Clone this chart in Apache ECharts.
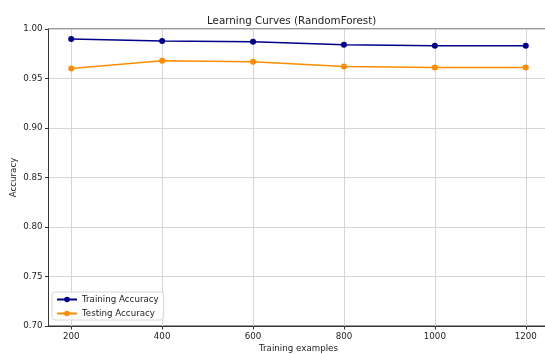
<!DOCTYPE html>
<html>
<head>
<meta charset="utf-8">
<script src="https://cdn.jsdelivr.net/npm/echarts@6/dist/echarts.min.js"></script>
<style>html,body{margin:0;padding:0;background:#fff}#c{width:545px;height:354px}</style>
</head>
<body>
<div id="c"></div>
<script>
const trainSizes = [200, 400, 600, 800, 1000, 1200];
const trainingAccuracy = [0.990, 0.988, 0.987, 0.984, 0.983, 0.983];
const testingAccuracy = [0.960, 0.968, 0.967, 0.962, 0.961, 0.961];
const xTicks = [200, 400, 600, 800, 1000, 1200];

const font = 'DejaVu Sans';
const fs = 8.7;
const chart = echarts.init(document.getElementById('c'), null, {renderer: 'canvas'});
chart.setOption({
  animation: false,
  backgroundColor: '#fff',
  title: {text: 'Learning Curves (RandomForest)', left: 202, top: 11,
    textStyle: {fontFamily: font, fontSize: 10.3, fontWeight: 'normal', color: '#222'}},
  grid: {left: 48.5, top: 29, width: 500, height: 297, show: true, borderColor: '#333', borderWidth: 1,
    containLabel: false, outerBoundsMode: 'none'},
  legend: {orient: 'vertical', left: 52, top: 292, itemWidth: 20, itemHeight: 7, itemGap: 5,
    padding: [3, 5, 2, 4], borderColor: '#d8d8d8', borderWidth: 1, borderRadius: 3, backgroundColor: 'rgba(255,255,255,0.8)',
    textStyle: {fontFamily: font, fontSize: fs, color: '#222'},
    data: ['Training Accuracy', 'Testing Accuracy']},
  xAxis: {type: 'value', min: 150, max: 1250,
    name: 'Training examples', nameLocation: 'middle', nameGap: 18, nameMoveOverlap: false,
    nameTextStyle: {fontFamily: font, fontSize: fs, color: '#222'},
    axisLine: {show: true, lineStyle: {color: '#333'}},
    axisTick: {show: true, length: 3.5, lineStyle: {color: '#333'}, customValues: xTicks},
    axisLabel: {fontFamily: font, fontSize: fs, color: '#222', margin: 6, customValues: xTicks, formatter: v => String(v)},
    splitLine: {show: true, lineStyle: {color: '#d6d6d6', width: 1}}},
  yAxis: {type: 'value', min: 0.70, max: 1.00, interval: 0.05,
    name: 'Accuracy', nameLocation: 'middle', nameGap: 30, nameMoveOverlap: false,
    nameTextStyle: {fontFamily: font, fontSize: fs, color: '#222'},
    axisLine: {show: true, lineStyle: {color: '#333'}},
    axisTick: {show: true, length: 3.5, lineStyle: {color: '#333'}},
    axisLabel: {fontFamily: font, fontSize: fs, color: '#222', margin: 6, formatter: v => v.toFixed(2)},
    splitLine: {show: true, lineStyle: {color: '#d6d6d6', width: 1}}},
  series: [
    {name: 'Training Accuracy', type: 'line', data: trainSizes.map((x, i) => [x, trainingAccuracy[i]]),
      symbol: 'circle', symbolSize: 6, color: '#00008b', lineStyle: {width: 1.5, color: '#00008b'}, itemStyle: {color: '#00008b'}},
    {name: 'Testing Accuracy', type: 'line', data: trainSizes.map((x, i) => [x, testingAccuracy[i]]),
      symbol: 'circle', symbolSize: 6, color: '#ff8c00', lineStyle: {width: 1.5, color: '#ff8c00'}, itemStyle: {color: '#ff8c00'}}
  ]
});
</script>
</body>
</html>
